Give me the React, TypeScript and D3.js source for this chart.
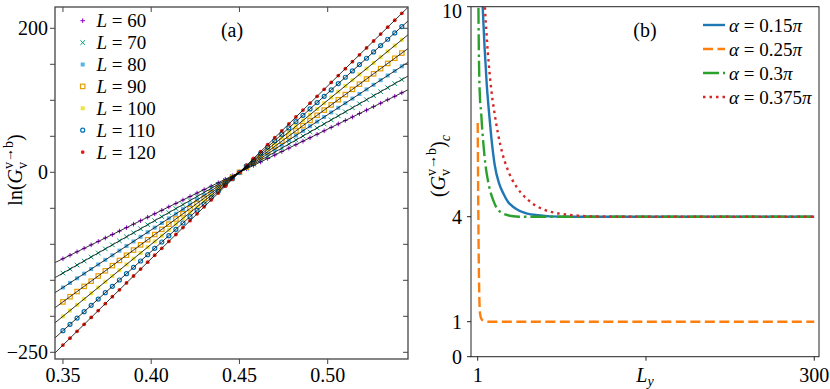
import React from 'react';
import * as d3 from 'd3';

// ---- panel (a) data ----
const xs = [0.350, 0.354, 0.358, 0.362, 0.366, 0.370, 0.374, 0.378, 0.382, 0.386, 0.390, 0.394, 0.398, 0.402, 0.406, 0.410, 0.414, 0.418, 0.422, 0.426, 0.430, 0.434, 0.438, 0.442, 0.446, 0.450, 0.454, 0.458, 0.462, 0.466, 0.470, 0.474, 0.478, 0.482, 0.486, 0.490, 0.494, 0.498, 0.502, 0.506, 0.510, 0.514, 0.518, 0.522, 0.526, 0.530, 0.534, 0.538, 0.542];

const sizes = [60, 70, 80, 90, 100, 110, 120];

const lnG60 = [-120, -115.2, -110.4, -105.6, -100.8, -96, -91.2, -86.4, -81.6, -76.8, -72, -67.2, -62.4, -57.6, -52.8, -48, -43.2, -38.4, -33.6, -28.8, -24, -19.2, -14.4, -9.6, -4.8, 0, 4.8, 9.6, 14.4, 19.2, 24, 28.8, 33.6, 38.4, 43.2, 48, 52.8, 57.6, 62.4, 67.2, 72, 76.8, 81.6, 86.4, 91.2, 96, 100.8, 105.6, 110.4];
const lnG70 = [-140, -134.4, -128.8, -123.2, -117.6, -112, -106.4, -100.8, -95.2, -89.6, -84, -78.4, -72.8, -67.2, -61.6, -56, -50.4, -44.8, -39.2, -33.6, -28, -22.4, -16.8, -11.2, -5.6, 0, 5.6, 11.2, 16.8, 22.4, 28, 33.6, 39.2, 44.8, 50.4, 56, 61.6, 67.2, 72.8, 78.4, 84, 89.6, 95.2, 100.8, 106.4, 112, 117.6, 123.2, 128.8];
const lnG80 = [-160, -153.6, -147.2, -140.8, -134.4, -128, -121.6, -115.2, -108.8, -102.4, -96, -89.6, -83.2, -76.8, -70.4, -64, -57.6, -51.2, -44.8, -38.4, -32, -25.6, -19.2, -12.8, -6.4, 0, 6.4, 12.8, 19.2, 25.6, 32, 38.4, 44.8, 51.2, 57.6, 64, 70.4, 76.8, 83.2, 89.6, 96, 102.4, 108.8, 115.2, 121.6, 128, 134.4, 140.8, 147.2];
const lnG90 = [-180, -172.8, -165.6, -158.4, -151.2, -144, -136.8, -129.6, -122.4, -115.2, -108, -100.8, -93.6, -86.4, -79.2, -72, -64.8, -57.6, -50.4, -43.2, -36, -28.8, -21.6, -14.4, -7.2, 0, 7.2, 14.4, 21.6, 28.8, 36, 43.2, 50.4, 57.6, 64.8, 72, 79.2, 86.4, 93.6, 100.8, 108, 115.2, 122.4, 129.6, 136.8, 144, 151.2, 158.4, 165.6];
const lnG100 = [-200, -192, -184, -176, -168, -160, -152, -144, -136, -128, -120, -112, -104, -96, -88, -80, -72, -64, -56, -48, -40, -32, -24, -16, -8, 0, 8, 16, 24, 32, 40, 48, 56, 64, 72, 80, 88, 96, 104, 112, 120, 128, 136, 144, 152, 160, 168, 176, 184];
const lnG110 = [-220, -211.2, -202.4, -193.6, -184.8, -176, -167.2, -158.4, -149.6, -140.8, -132, -123.2, -114.4, -105.6, -96.8, -88, -79.2, -70.4, -61.6, -52.8, -44, -35.2, -26.4, -17.6, -8.8, 0, 8.8, 17.6, 26.4, 35.2, 44, 52.8, 61.6, 70.4, 79.2, 88, 96.8, 105.6, 114.4, 123.2, 132, 140.8, 149.6, 158.4, 167.2, 176, 184.8, 193.6, 202.4];
const lnG120 = [-240, -230.4, -220.8, -211.2, -201.6, -192, -182.4, -172.8, -163.2, -153.6, -144, -134.4, -124.8, -115.2, -105.6, -96, -86.4, -76.8, -67.2, -57.6, -48, -38.4, -28.8, -19.2, -9.6, 0, 9.6, 19.2, 28.8, 38.4, 48, 57.6, 67.2, 76.8, 86.4, 96, 105.6, 115.2, 124.8, 134.4, 144, 153.6, 163.2, 172.8, 182.4, 192, 201.6, 211.2, 220.8];

// linear fits, value at each end of the x range
const fitX = [0.3455, 0.5455];
const fitEnds = [
  [-125.4, 114.6],
  [-146.3, 133.7],
  [-167.2, 152.8],
  [-188.1, 171.9],
  [-209, 191],
  [-229.9, 210.1],
  [-250.8, 229.2],
];

const seriesA = [lnG60, lnG70, lnG80, lnG90, lnG100, lnG110, lnG120];
const colorsA = ['#9400d3', '#009e73', '#56b4e9', '#e69f00', '#f0e442', '#0072b2', '#e51e10'];
const symbolsA = ['plus', 'cross', 'fsquare', 'osquare', 'fsquare', 'ocircle', 'fcircle'];

const yTicksA = [-250, -200, -150, -100, -50, 0, 50, 100, 150, 200];
const yLabelsA = [200, 0, -250];
const xTicksA = [0.35, 0.40, 0.45, 0.50];

// ---- panel (b) data: [L_y, (G)_c] ----
const alpha015 = [[1, 14.5], [3, 11.8], [5, 10.3], [7, 8.9], [9, 7.8], [11, 7.0], [13, 6.3], [16, 5.5], [20, 4.95], [24, 4.65], [28, 4.42], [33, 4.27], [38, 4.17], [45, 4.09], [55, 4.04], [65, 4.01], [80, 4.0], [300, 4.0]];
const alpha025 = [[1, 6.68], [2, 2.6], [3, 1.25], [4, 1.1], [5, 1.05], [7, 1.02], [10, 1.0], [300, 1.0]];
const alpha03 = [[1, 13], [2, 8.8], [3, 7.4], [4, 7.0], [5, 6.5], [6, 6.1], [8, 5.45], [10, 5.05], [12, 4.75], [15, 4.45], [18, 4.24], [22, 4.12], [26, 4.06], [31, 4.02], [40, 4.0], [300, 4.0]];
const alpha0375 = [[1, 15], [4, 12], [7, 10.2], [10, 8.7], [13, 7.65], [16, 6.95], [19, 6.38], [23, 5.8], [27, 5.4], [31, 5.1], [35, 4.88], [40, 4.66], [45, 4.5], [50, 4.37], [60, 4.2], [70, 4.11], [80, 4.06], [90, 4.03], [100, 4.01], [120, 4.0], [300, 4.0]];

const alphaLabels = ['0.15', '0.25', '0.3', '0.375'];
const seriesB = [alpha015, alpha025, alpha03, alpha0375];
const colorsB = ['#1f77b4', '#ff7f0e', '#2ca02c', '#d62728'];
const dashesB = ['none', '10,4.5', '16,4,2.5,4', '2.5,4'];

const yTicksB = [0, 1, 4, 10];
const xTicksB = [1, 150.5, 300];
const xLabelsB = ['1', '', '300'];

const FONT = '"Liberation Serif", "DejaVu Serif", serif';

function Marker({ kind, x, y, color }: { kind: string; x: number; y: number; color: string }) {
  const s = 2.3;
  if (kind === 'plus')
    return <path d={`M${x - s},${y}H${x + s}M${x},${y - s}V${y + s}`} stroke={color} strokeWidth={1} />;
  if (kind === 'cross')
    return <path d={`M${x - s},${y - s}L${x + s},${y + s}M${x - s},${y + s}L${x + s},${y - s}`} stroke={color} strokeWidth={1} />;
  if (kind === 'fsquare')
    return <rect x={x - 2} y={y - 2} width={4} height={4} fill={color} />;
  if (kind === 'osquare')
    return <rect x={x - 2.2} y={y - 2.2} width={4.4} height={4.4} fill="none" stroke={color} strokeWidth={1.2} />;
  if (kind === 'ocircle')
    return <circle cx={x} cy={y} r={2} fill="none" stroke={color} strokeWidth={1.2} />;
  return <circle cx={x} cy={y} r={1.9} fill={color} />;
}

// G_v^{v->b} written with sub/superscripts
function GLabel() {
  return (
    <>
      <tspan fontStyle="italic">G</tspan>
      <tspan fontSize={14} dy={5}>v</tspan>
      <tspan fontSize={14} dx={-7} dy={-14}>{'v\u2192b'}</tspan>
      <tspan dy={9}>)</tspan>
    </>
  );
}

export default function App() {
  // panel (a)
  const ax = d3.scaleLinear().domain([0.3455, 0.5455]).range([55, 408]);
  const ay = d3.scaleLinear().domain([-259.3, 229.6]).range([359, 7]);
  const fitLine = d3.line<number>().x((_, i) => ax(fitX[i])).y(d => ay(d));

  // panel (b)
  const bx = d3.scaleLinear().domain([-4.95, 304.2]).range([471, 819]);
  const by = d3.scaleLinear().domain([0, 10]).range([356.7, 6.7]);
  const curve = d3.line<number[]>().x(d => bx(d[0])).y(d => by(d[1])).curve(d3.curveMonotoneX);

  const frameA = '#444';
  const frameB = '#222';

  return (
    <svg width={830} height={389} style={{ position: 'absolute', left: 0, top: 0, fontFamily: FONT }}>
      <defs>
        <clipPath id="clipA"><rect x={55} y={7} width={353} height={352} /></clipPath>
        <clipPath id="clipB"><rect x={471} y={6.7} width={348} height={350} /></clipPath>
      </defs>

      {/* ---------- panel (a) ---------- */}
      <g clipPath="url(#clipA)">
        {seriesA.map((vals, si) => (
          <g key={si}>
            {vals.map((v, i) => (
              <Marker key={i} kind={symbolsA[si]} x={ax(xs[i])} y={ay(v)} color={colorsA[si]} />
            ))}
          </g>
        ))}
        {fitEnds.map((f, si) => (
          <path key={si} d={fitLine(f) || ''} fill="none" stroke="#000" strokeWidth={0.8} />
        ))}
      </g>
      <rect x={55} y={7} width={353} height={352} fill="none" stroke={frameA} strokeWidth={1.3} />
      {yTicksA.map(t => (
        <g key={t}>
          <line x1={50} x2={55} y1={ay(t)} y2={ay(t)} stroke={frameA} strokeWidth={1} />
          <line x1={403} x2={408} y1={ay(t)} y2={ay(t)} stroke={frameA} strokeWidth={1} />
        </g>
      ))}
      {yLabelsA.map(t => (
        <text key={t} x={48} y={ay(t)} dy="0.35em" textAnchor="end" fontSize={20}>
          {t < 0 ? '\u2212' + Math.abs(t) : t}
        </text>
      ))}
      {xTicksA.map(t => (
        <g key={t}>
          <line x1={ax(t)} x2={ax(t)} y1={359} y2={364} stroke={frameA} strokeWidth={1} />
          <line x1={ax(t)} x2={ax(t)} y1={7} y2={12} stroke={frameA} strokeWidth={1} />
          <text x={ax(t)} y={381.5} textAnchor="middle" fontSize={20}>{t.toFixed(2)}</text>
        </g>
      ))}
      <text x={232} y={37} textAnchor="middle" fontSize={20}>(a)</text>
      <text transform="translate(22,170) rotate(-90)" textAnchor="middle" fontSize={20}>
        ln(<GLabel />
      </text>
      {sizes.map((L, si) => {
        const cy = 20.7 + si * 21.9;
        return (
          <g key={L}>
            <Marker kind={symbolsA[si]} x={82.7} y={cy} color={colorsA[si]} />
            <text x={96.5} y={cy} dy="0.35em" fontSize={19}>
              <tspan fontStyle="italic">L</tspan> = {L}
            </text>
          </g>
        );
      })}

      {/* ---------- panel (b) ---------- */}
      <g clipPath="url(#clipB)">
        {seriesB.map((s, si) => (
          <path key={si} d={curve(s) || ''} fill="none" stroke={colorsB[si]} strokeWidth={2.4}
            strokeDasharray={dashesB[si]} />
        ))}
      </g>
      <rect x={471} y={6.7} width={348} height={350} fill="none" stroke={frameB} strokeWidth={1} />
      {yTicksB.map(t => (
        <g key={t}>
          <line x1={467} x2={471} y1={by(t)} y2={by(t)} stroke={frameB} strokeWidth={1} />
          {t === 10
            ? <text x={462} y={18} textAnchor="end" fontSize={20}>{t}</text>
            : <text x={462} y={by(t)} dy="0.35em" textAnchor="end" fontSize={20}>{t}</text>}
        </g>
      ))}
      {xTicksB.map((t, i) => (
        <g key={t}>
          <line x1={bx(t)} x2={bx(t)} y1={356.7} y2={360.7} stroke={frameB} strokeWidth={1} />
          <text x={bx(t)} y={381.5} textAnchor="middle" fontSize={20}>{xLabelsB[i]}</text>
        </g>
      ))}
      <text x={645} y={382} textAnchor="middle" fontSize={20}>
        <tspan fontStyle="italic">L</tspan><tspan fontStyle="italic" fontSize={14} dy={4}>y</tspan>
      </text>
      <text x={645} y={37} textAnchor="middle" fontSize={20}>(b)</text>
      <text transform="translate(445,166) rotate(-90)" textAnchor="middle" fontSize={20}>
        (<GLabel />
        <tspan fontStyle="italic" fontSize={14} dy={5}>c</tspan>
      </text>
      {alphaLabels.map((a, si) => {
        const cy = 25 + si * 24;
        return (
          <g key={a}>
            <line x1={703} x2={725} y1={cy} y2={cy} stroke={colorsB[si]} strokeWidth={2.4}
              strokeDasharray={dashesB[si]} />
            <text x={729} y={cy} dy="0.35em" fontSize={19}>
              <tspan fontStyle="italic">{'\u03b1'}</tspan> = {a}<tspan fontStyle="italic">{'\u03c0'}</tspan>
            </text>
          </g>
        );
      })}
    </svg>
  );
}
